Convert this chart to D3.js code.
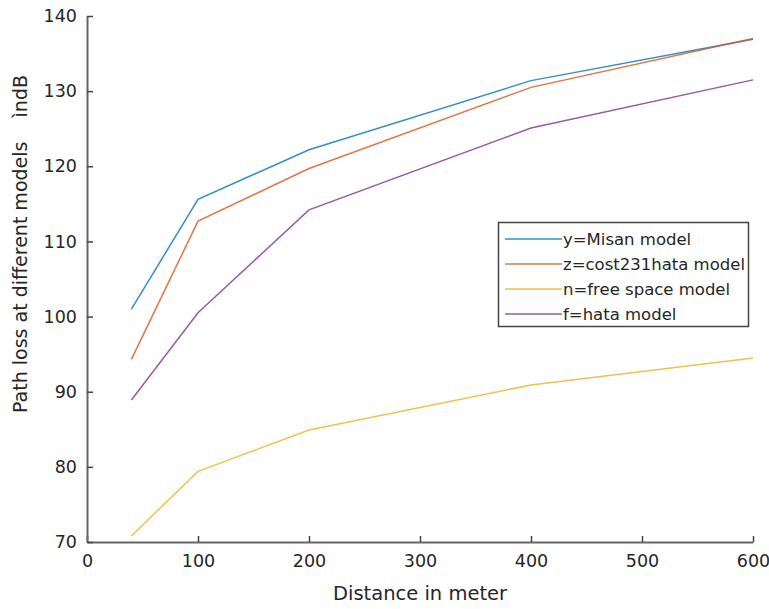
<!DOCTYPE html>
<html><head><meta charset="utf-8">
<script src="https://cdn.jsdelivr.net/npm/d3@7"></script>
<style>body{margin:0;background:#fff}text{font-family:"DejaVu Sans",Verdana,sans-serif}</style>
</head><body><svg id="c" width="769" height="609"></svg>
<script>
const distances = [40, 100, 200, 400, 600];
const misan = [101.0, 115.6, 122.2, 131.4, 136.9];
const cost231 = [94.3, 112.7, 119.7, 130.5, 137.0];
const freeSpace = [70.8, 79.4, 84.9, 90.9, 94.5];
const hata = [88.9, 100.5, 114.2, 125.1, 131.5];
const seriesNames = ["y=Misan model", "z=cost231hata model", "n=free space model", "f=hata model"];
const xTicks = [0, 100, 200, 300, 400, 500, 600];
const yTicks = [70, 80, 90, 100, 110, 120, 130, 140];
const colors = ["#0072BD", "#D95319", "#EDB120", "#7E2F8E"];
const allSeries = [misan, cost231, freeSpace, hata];

const svg = d3.select("#c");
const x = d3.scaleLinear().domain([0, 600]).range([87, 753]);
const y = d3.scaleLinear().domain([70, 140]).range([542, 16]);

const gx = svg.append("g").attr("transform", "translate(0,542)")
  .call(d3.axisBottom(x).tickValues(xTicks).tickSizeInner(-6).tickSizeOuter(0).tickPadding(13));
const gy = svg.append("g").attr("transform", "translate(87,0)")
  .call(d3.axisLeft(y).tickValues(yTicks).tickSizeInner(-6).tickSizeOuter(0).tickPadding(10));
[gx, gy].forEach(g => {
  g.select(".domain").attr("stroke", "#666").attr("stroke-width", 2);
  g.selectAll(".tick line").attr("stroke", "#444").attr("stroke-width", 1.5);
  g.selectAll(".tick text").attr("fill", "#262626").style("font-size", "17.5px")
   .style("font-family", '"DejaVu Sans",Verdana,sans-serif');
});

const line = d3.line().x((d, i) => x(distances[i])).y(d => y(d));
allSeries.forEach((s, k) => {
  svg.append("path").datum(s).attr("d", line).attr("fill", "none")
    .attr("stroke", colors[k]).attr("stroke-width", 1.5).attr("opacity", 0.8);
});

svg.append("text").attr("x", 420).attr("y", 600).attr("text-anchor", "middle")
  .attr("fill", "#262626").style("font-size", "19.5px").text("Distance in meter");
svg.append("text").attr("transform", "translate(27,244) rotate(-90)").attr("text-anchor", "middle")
  .attr("fill", "#262626").style("font-size", "19px").style("white-space", "pre")
  .text("Path loss at different models    ìndB");

const lg = svg.append("g");
lg.append("rect").attr("x", 498.5).attr("y", 222.5).attr("width", 250).attr("height", 104)
  .attr("fill", "#fff").attr("stroke", "#444").attr("stroke-width", 1.5);
seriesNames.forEach((n, k) => {
  const yy = 239 + k * 25;
  lg.append("line").attr("x1", 505).attr("x2", 562).attr("y1", yy).attr("y2", yy)
    .attr("stroke", colors[k]).attr("stroke-width", 1.5).attr("opacity", 0.8);
  lg.append("text").attr("x", 563).attr("y", yy + 6).attr("fill", "#262626")
    .style("font-size", "16.5px").text(n);
});
</script></body></html>
